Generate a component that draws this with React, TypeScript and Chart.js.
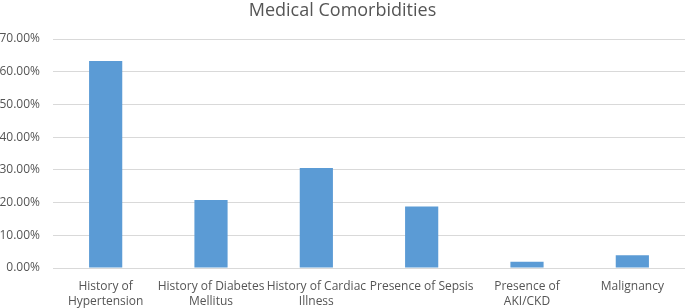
import React, { useEffect, useRef } from "react";
import { Chart, registerables } from "chart.js";

Chart.register(...registerables);

const categories: (string | string[])[] = [
  ["History of", "Hypertension"],
  ["History of Diabetes", "Mellitus"],
  ["History of Cardiac", "Illness"],
  ["Presence of Sepsis"],
  ["Presence of", "AKI/CKD"],
  ["Malignancy"],
];
const values: number[] = [63.3, 20.8, 30.6, 18.8, 1.9, 3.9];
const yMax = 70;
const yStep = 10;
const titleText = "Medical Comorbidities";

export default function App() {
  const ref = useRef<HTMLCanvasElement | null>(null);
  useEffect(() => {
    if (!ref.current) return;
    const font = "'Open Sans', 'Liberation Sans', sans-serif";
    const chart = new Chart(ref.current, {
      type: "bar",
      data: {
        labels: categories,
        datasets: [
          {
            data: values,
            backgroundColor: "#5b9bd5",
            borderWidth: 0,
            barPercentage: 0.315,
            categoryPercentage: 1,
          },
        ],
      },
      options: {
        responsive: false,
        animation: false,
        devicePixelRatio: 1,
        layout: { padding: 0 },
        plugins: {
          legend: { display: false },
          tooltip: { enabled: false },
          title: {
            display: true,
            text: titleText,
            color: "#555555",
            font: { family: font, size: 18, weight: "normal", lineHeight: 1.2 },
            padding: { top: 0, bottom: 17.4 },
          },
        },
        scales: {
          x: {
            grid: { display: false, drawTicks: false },
            border: { display: false },
            ticks: {
              color: "#555555",
              font: { family: font, size: 12, lineHeight: 1.25 },
              padding: 11,
              maxRotation: 0,
              autoSkip: false,
            },
            afterFit: (s: any) => {
              s.height = 40;
            },
          },
          y: {
            min: 0,
            max: yMax,
            grid: { color: "#d9d9d9", lineWidth: 1, drawTicks: false },
            border: { display: false },
            ticks: {
              stepSize: yStep,
              color: "#555555",
              font: { family: font, size: 12 },
              padding: 13,
              callback: (v: any) => Number(v).toFixed(2) + "%",
            },
            afterFit: (s: any) => {
              s.width = 53;
            },
          },
        },
      },
    });
    return () => chart.destroy();
  }, []);
  return (
    <div style={{ position: "absolute", left: 0, top: 0, width: 685, height: 308, background: "#fff" }}>
      <canvas ref={ref} width={685} height={308} />
    </div>
  );
}
